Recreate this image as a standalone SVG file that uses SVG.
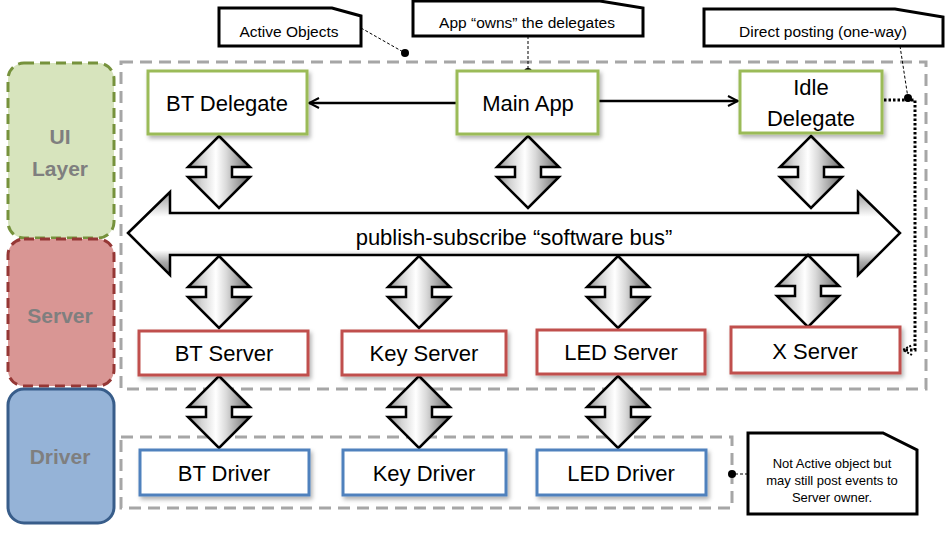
<svg xmlns="http://www.w3.org/2000/svg" width="950" height="533" viewBox="0 0 950 533">
<style>
text{font-family:"Liberation Sans",Arial,sans-serif;fill:#000;text-anchor:middle}
.nt{font-size:22px}
.bt{font-size:22px}
.ct{font-size:15.5px}
.st{font-size:13px}
.lt{font-size:21px;font-weight:bold;fill:#7f7f7f}
.g{fill:#fff;stroke:#9bbb59;stroke-width:3}
.r{fill:#fff;stroke:#c0504d;stroke-width:3}
.b{fill:#fff;stroke:#4f81bd;stroke-width:3}
.call{fill:#fff;stroke:#000;stroke-width:3;stroke-linejoin:miter}
.lead{fill:none;stroke:#000;stroke-width:1;stroke-dasharray:3 2}
.cont{fill:none;stroke:#a6a6a6;stroke-width:3;stroke-dasharray:12 7}
.blk{stroke:#000;stroke-width:2.5;stroke-linejoin:miter}
.va{fill:url(#vg)}
</style>
<defs>
<filter id="sh" x="-10%" y="-20%" width="130%" height="150%">
<feDropShadow dx="2" dy="3" stdDeviation="2" flood-color="#000" flood-opacity="0.3"/>
</filter>
<linearGradient id="vg" x1="0" y1="0" x2="1" y2="0">
<stop offset="0" stop-color="#8f8f8f"/>
<stop offset="0.22" stop-color="#d4d4d4"/>
<stop offset="0.45" stop-color="#ffffff"/>
<stop offset="0.62" stop-color="#d9d9d9"/>
<stop offset="1" stop-color="#6a6a6a"/>
</linearGradient>
<linearGradient id="hg" x1="0" y1="0" x2="0" y2="1">
<stop offset="0" stop-color="#9a9a9a"/>
<stop offset="0.3" stop-color="#ffffff"/>
<stop offset="0.7" stop-color="#ffffff"/>
<stop offset="0.85" stop-color="#a8a8a8"/>
<stop offset="1" stop-color="#7a7a7a"/>
</linearGradient>
<marker id="ah" viewBox="0 0 12 12" refX="11" refY="6" markerWidth="12" markerHeight="12" markerUnits="userSpaceOnUse" orient="auto">
<path d="M1,1 L11,6 L1,11" fill="none" stroke="#000" stroke-width="2"/>
</marker>
<marker id="ah2" viewBox="0 0 12 12" refX="11" refY="6" markerWidth="12" markerHeight="12" markerUnits="userSpaceOnUse" orient="auto">
<path d="M2,1 L11,6 L2,11" fill="none" stroke="#000" stroke-width="2" stroke-dasharray="2 1.5"/>
</marker>
<path id="dbl" d="M0,0 L31,31 L13,31 L13,41 L31,41 L0,72 L-31,41 L-13,41 L-13,31 L-31,31 Z"/>
</defs>

<!-- layer bands -->
<g id="layer-ui">
<rect x="8" y="63" width="106" height="175" rx="16" fill="#d7e4bd" stroke="#76923c" stroke-width="3" stroke-dasharray="10 6"/>
<text class="lt" x="60" y="144">UI</text>
<text class="lt" x="60" y="176">Layer</text>
</g>
<g id="layer-server">
<rect x="8" y="239" width="106" height="147" rx="16" fill="#d99694" stroke="#953735" stroke-width="3" stroke-dasharray="10 6"/>
<text class="lt" x="60" y="323">Server</text>
</g>
<g id="layer-driver">
<rect x="8" y="389" width="106" height="134" rx="16" fill="#95b3d7" stroke="#385d8a" stroke-width="3"/>
<text class="lt" x="60" y="464">Driver</text>
</g>

<!-- containers -->
<g id="containers">
<rect class="cont" x="121" y="62" width="805" height="327"/>
<rect class="cont" x="121" y="437" width="611" height="71"/>
</g>

<!-- connectors -->
<g id="connectors">
<g id="software-bus">
<path class="blk" fill="url(#hg)" d="M128,233 L170,192 L170,213 L858,213 L858,192 L900,233 L858,275 L858,255 L170,255 L170,275 Z"/>
<text class="bt" x="514" y="245">publish-subscribe “software bus”</text>
</g>
<use href="#dbl" class="blk va" x="219" y="136"/>
<use href="#dbl" class="blk va" x="528" y="136"/>
<use href="#dbl" class="blk va" x="811" y="136"/>
<use href="#dbl" class="blk va" x="219" y="256"/>
<use href="#dbl" class="blk va" x="419" y="256"/>
<use href="#dbl" class="blk va" x="618" y="256"/>
<use href="#dbl" class="blk va" x="808" y="255"/>
<use href="#dbl" class="blk va" x="219" y="376"/>
<use href="#dbl" class="blk va" x="419" y="376"/>
<use href="#dbl" class="blk va" x="618" y="376"/>
<line x1="457" y1="103" x2="309" y2="103" stroke="#000" stroke-width="2.5" marker-end="url(#ah)"/>
<line x1="598" y1="101" x2="738" y2="101" stroke="#000" stroke-width="2.5" marker-end="url(#ah)"/>
<polyline points="884,100 915,100 915,350 903,350" fill="none" stroke="#000" stroke-width="3" stroke-dasharray="2.5 2" marker-end="url(#ah2)"/>
<line class="lead" x1="361" y1="28" x2="405" y2="53"/>
<circle cx="405" cy="53" r="4"/>
<line class="lead" x1="528" y1="36" x2="528" y2="72"/>
<circle cx="528" cy="72" r="4"/>
<line class="lead" x1="900" y1="46" x2="908" y2="98"/>
<circle cx="908" cy="98" r="4"/>
<line class="lead" x1="748" y1="474" x2="732" y2="474"/>
<circle cx="732" cy="474" r="4"/>
</g>

<!-- delegates -->
<g id="bt-delegate"><rect class="g" filter="url(#sh)" x="148" y="71" width="159" height="63"/><text class="nt" x="227" y="111">BT Delegate</text></g>
<g id="main-app"><rect class="g" filter="url(#sh)" x="457" y="71" width="141" height="63"/><text class="nt" x="528" y="111">Main App</text></g>
<g id="idle-delegate"><rect class="g" filter="url(#sh)" x="740" y="71" width="142" height="62"/><text class="nt" x="811" y="95">Idle</text><text class="nt" x="811" y="126">Delegate</text></g>

<!-- servers -->
<g id="bt-server"><rect class="r" filter="url(#sh)" x="139" y="331" width="169" height="44"/><text class="nt" x="224" y="361">BT Server</text></g>
<g id="key-server"><rect class="r" filter="url(#sh)" x="342" y="331" width="164" height="44"/><text class="nt" x="424" y="361">Key Server</text></g>
<g id="led-server"><rect class="r" filter="url(#sh)" x="537" y="330" width="168" height="44"/><text class="nt" x="621" y="360">LED Server</text></g>
<g id="x-server"><rect class="r" filter="url(#sh)" x="731" y="327" width="169" height="46"/><text class="nt" x="815" y="359">X Server</text></g>

<!-- drivers -->
<g id="bt-driver"><rect class="b" filter="url(#sh)" x="140" y="450" width="169" height="45"/><text class="nt" x="224" y="481">BT Driver</text></g>
<g id="key-driver"><rect class="b" filter="url(#sh)" x="343" y="450" width="163" height="45"/><text class="nt" x="424" y="481">Key Driver</text></g>
<g id="led-driver"><rect class="b" filter="url(#sh)" x="537" y="450" width="169" height="45"/><text class="nt" x="621" y="481">LED Driver</text></g>

<!-- callouts -->
<g id="note-active"><path class="call" d="M219,8 L332,8 L361,16 L361,46 L219,46 Z"/><text class="ct" x="289" y="37">Active Objects</text></g>
<g id="note-owns"><path class="call" d="M413,1 L600,1 L643,8 L643,36 L413,36 Z"/><text class="ct" x="527" y="28">App “owns” the delegates</text></g>
<g id="note-direct"><path class="call" d="M704,9 L895,9 L943,17 L943,46 L704,46 Z"/><text class="ct" x="823" y="37">Direct posting (one-way)</text></g>
<g id="note-driver"><path class="call" d="M748,433 L883,433 L917,450 L917,514 L748,514 Z"/>
<text class="st" x="832" y="468">Not Active object but</text>
<text class="st" x="832" y="485">may still post events to</text>
<text class="st" x="832" y="502">Server owner.</text></g>
</svg>
